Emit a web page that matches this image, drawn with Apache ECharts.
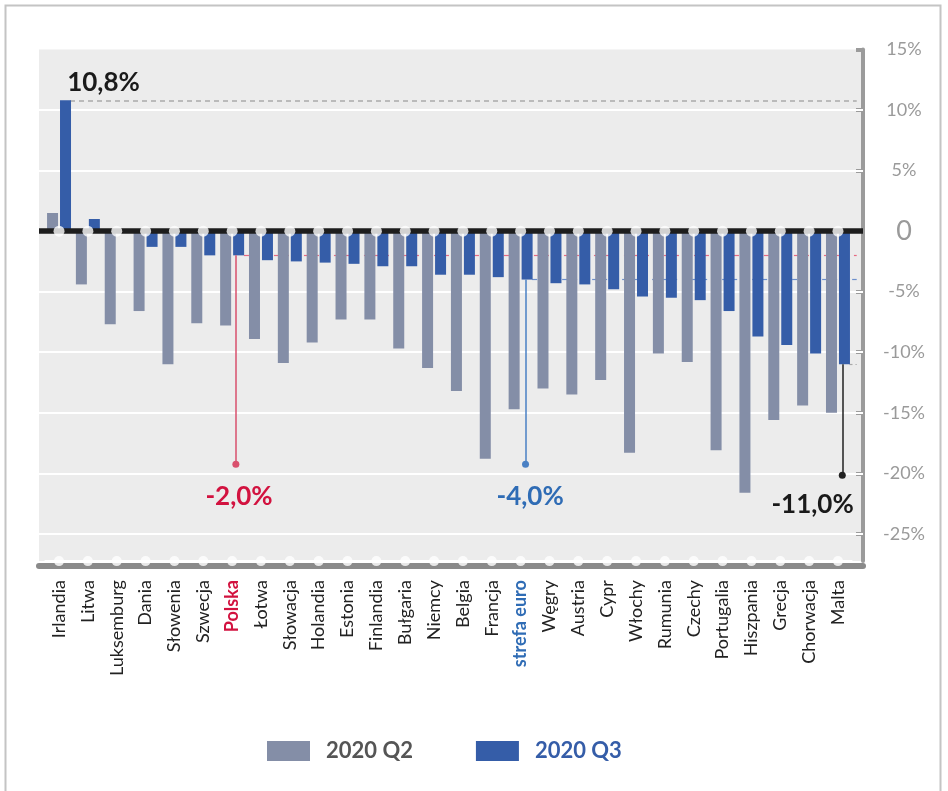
<!DOCTYPE html>
<html>
<head>
<meta charset="utf-8">
<script src="https://cdn.jsdelivr.net/npm/echarts@6/dist/echarts.min.js"></script>
<style>
  html, body { margin: 0; padding: 0; background: #fff; }
  #chart { width: 948px; height: 791px; }
</style>
</head>
<body>
<div id="chart"></div>
<script>
// PKB r/r w krajach UE: 2020 Q2 vs 2020 Q3 (%)
const CATEGORIES = [
  "Irlandia", "Litwa", "Luksemburg", "Dania", "Słowenia", "Szwecja", "Polska",
  "Łotwa", "Słowacja", "Holandia", "Estonia", "Finlandia", "Bułgaria", "Niemcy",
  "Belgia", "Francja", "strefa euro", "Węgry", "Austria", "Cypr", "Włochy",
  "Rumunia", "Czechy", "Portugalia", "Hiszpania", "Grecja", "Chorwacja", "Malta"
];
const Q2 = [
  1.5, -4.4, -7.7, -6.6, -11.0, -7.6, -7.8,
  -8.9, -10.9, -9.2, -7.3, -7.3, -9.7, -11.3,
  -13.2, -18.8, -14.7, -13.0, -13.5, -12.3, -18.3,
  -10.1, -10.8, -18.1, -21.6, -15.6, -14.4, -15.0
];
const Q3 = [
  10.8, 1.0, -0.1, -1.3, -1.3, -2.0, -2.0,
  -2.4, -2.5, -2.6, -2.7, -2.9, -2.9, -3.6,
  -3.6, -3.8, -4.0, -4.3, -4.4, -4.8, -5.4,
  -5.5, -5.7, -6.6, -8.7, -9.4, -10.1, -11.0
];
const Y_TICKS = [-25, -20, -15, -10, -5, 0, 5, 10, 15];
const Y_MIN = -27.25;
const Y_MAX = 15;

const C_Q2 = "#848ea7";
const C_Q3 = "#355da8";
const C_RED = "#d2123f";
const C_BLUE = "#2f6cb5";
const FONT = "Lato, 'Noto Sans', sans-serif";

// os x tła w jednostkach indeksu kategorii (szersza niż pas słupków)
const IDX_MIN = -0.694;
const IDX_MAX = 27.868;

const ch = echarts.init(document.getElementById("chart"));

const hline = (y, from, to, color, width, type) => [
  { coord: [from, y], lineStyle: { color, width, type } },
  { coord: [to, y] }
];
const vline = (x, y0, y1, color) => [
  { coord: [x, y0], symbol: "none", lineStyle: { color, width: 1.5, type: "solid" } },
  { coord: [x, y1], symbol: "circle", symbolSize: 7, itemStyle: { color } }
];
const note = (x, y, text, color) => ({
  coord: [x, y], symbolSize: 0,
  label: { show: true, position: "inside", formatter: text, color,
    fontFamily: FONT, fontWeight: "bold", fontSize: 26 }
});

ch.setOption({
  animation: false,
  backgroundColor: "#fff",
  graphic: [
    { type: "rect", shape: { x: 5.5, y: 5.5, width: 935, height: 800 },
      style: { fill: "none", stroke: "#c4c4c4", lineWidth: 2 }, z: -10 }
  ],
  legend: {
    left: 262, top: 735,
    itemWidth: 43, itemHeight: 20, itemGap: 63,
    icon: "rect",
    selectedMode: false,
    textStyle: { fontFamily: FONT, fontWeight: "bold", fontSize: 22, padding: [0, 0, 0, 11] },
    data: [
      { name: "2020 Q2", textStyle: { color: "#555" } },
      { name: "2020 Q3", textStyle: { color: C_Q3 } }
    ]
  },
  grid: [
    { left: 39, width: 824, top: 49.5, height: 511.6, show: true,
      backgroundColor: "#ececec", borderWidth: 0 },
    { left: 44.6, width: 807.8, top: 49.5, height: 511.6 }
  ],
  xAxis: [
    {
      gridIndex: 0, type: "value", min: IDX_MIN, max: IDX_MAX, offset: 5,
      axisLine: { show: true, onZero: false, lineStyle: { color: "#8a8a8a", width: 6 } },
      axisTick: { show: false }, axisLabel: { show: false }, splitLine: { show: false }
    },
    {
      gridIndex: 1, type: "category", data: CATEGORIES, offset: 5,
      axisLine: { show: false, onZero: false },
      axisTick: { show: false },
      axisLabel: {
        rotate: 90, margin: 14, interval: 0,
        fontFamily: FONT, fontSize: 18, color: "#222",
        formatter: (v) => v === "Polska" ? "{pl|" + v + "}" : v === "strefa euro" ? "{eu|" + v + "}" : v,
        rich: {
          pl: { color: C_RED, fontWeight: "bold", fontFamily: FONT, fontSize: 18 },
          eu: { color: C_BLUE, fontWeight: "bold", fontFamily: FONT, fontSize: 18 }
        }
      }
    }
  ],
  yAxis: [
    {
      gridIndex: 0, type: "value", position: "right", min: Y_MIN, max: Y_MAX,
      axisLine: { show: true, onZero: false, lineStyle: { color: "#9b9b9b", width: 4 } },
      axisTick: { show: true, inside: true, length: 7, customValues: Y_TICKS,
        lineStyle: { color: "#9b9b9b", width: 4 } },
      axisLabel: {
        customValues: Y_TICKS, margin: 41, align: "center",
        fontFamily: FONT, fontSize: 18, color: "#9a9a9a",
        formatter: (v) => v === 0 ? "{z|0}" : v + "%",
        rich: { z: { fontFamily: FONT, fontSize: 27, color: "#9a9a9a" } }
      },
      splitLine: { show: false }
    },
    { gridIndex: 1, type: "value", min: Y_MIN, max: Y_MAX, show: false }
  ],
  series: [
    {
      // siatka i linie odniesienia (pod słupkami)
      type: "line", xAxisIndex: 0, yAxisIndex: 0, data: [], z: 1, silent: true,
      markLine: {
        z: 1, silent: true, symbol: "none", animation: false, label: { show: false },
        data: [
          ...Y_TICKS.filter((v) => v !== 0 && v !== Y_MAX).map((v) => ({
            yAxis: v, lineStyle: { color: "#fff", width: 2, type: "solid" }
          })),
          hline(10.8, 0.38, 27.65, "#a9a9a9", 1.5, [5, 4]),
          hline(-2.0, 6.41, 27.65, "#e66a82", 1.2, [5, 5]),
          hline(-4.0, 16.4, 27.65, "#6c8fcc", 1.2, [5, 5]),
          hline(-11.0, 27.4, 27.65, "#a9a9a9", 1.2, [3, 3])
        ]
      }
    },
    {
      name: "2020 Q2", type: "bar", xAxisIndex: 1, yAxisIndex: 1, data: Q2,
      barWidth: 11, barGap: "18%", itemStyle: { color: C_Q2 }, z: 2
    },
    {
      name: "2020 Q3", type: "bar", xAxisIndex: 1, yAxisIndex: 1, data: Q3,
      barWidth: 11, barGap: "18%", itemStyle: { color: C_Q3 }, z: 2
    },
    {
      // linia zera, odnośniki i opisy
      type: "line", xAxisIndex: 0, yAxisIndex: 0, data: [], z: 3, silent: true,
      markLine: {
        z: 3, silent: true, symbol: "none", animation: false, label: { show: false },
        data: [
          { yAxis: 0, lineStyle: { color: "#1d1d1d", width: 5.5, type: "solid" } },
          vline(6.13, -2.0, -19.25, "#d9506d"),
          vline(16.17, -4.0, -19.25, "#4a80c4"),
          vline(27.15, -11.0, -20.15, "#222")
        ]
      },
      markPoint: {
        z: 3, silent: true, animation: false, symbol: "circle",
        data: [
          note(1.54, 12.25, "10,8%", "#1a1a1a"),
          note(6.24, -21.96, "-2,0%", C_RED),
          note(16.33, -21.96, "-4,0%", C_BLUE),
          note(26.12, -22.62, "-11,0%", "#1a1a1a")
        ]
      }
    },
    {
      type: "scatter", xAxisIndex: 1, yAxisIndex: 1, z: 4, silent: true,
      data: CATEGORIES.map(() => 0), symbolSize: 11,
      itemStyle: { color: "#fff" }
    },
    {
      type: "scatter", xAxisIndex: 1, yAxisIndex: 1, z: 4, silent: true,
      data: CATEGORIES.map(() => Y_MIN), symbolSize: 10,
      itemStyle: { color: "#fff" },
      markLine: {
        z: 3, silent: true, symbol: "none", animation: false, label: { show: false },
        data: [{ yAxis: Y_MIN, lineStyle: { color: "#fff", width: 2, type: "solid" } }]
      }
    }
  ]
});
</script>
</body>
</html>
